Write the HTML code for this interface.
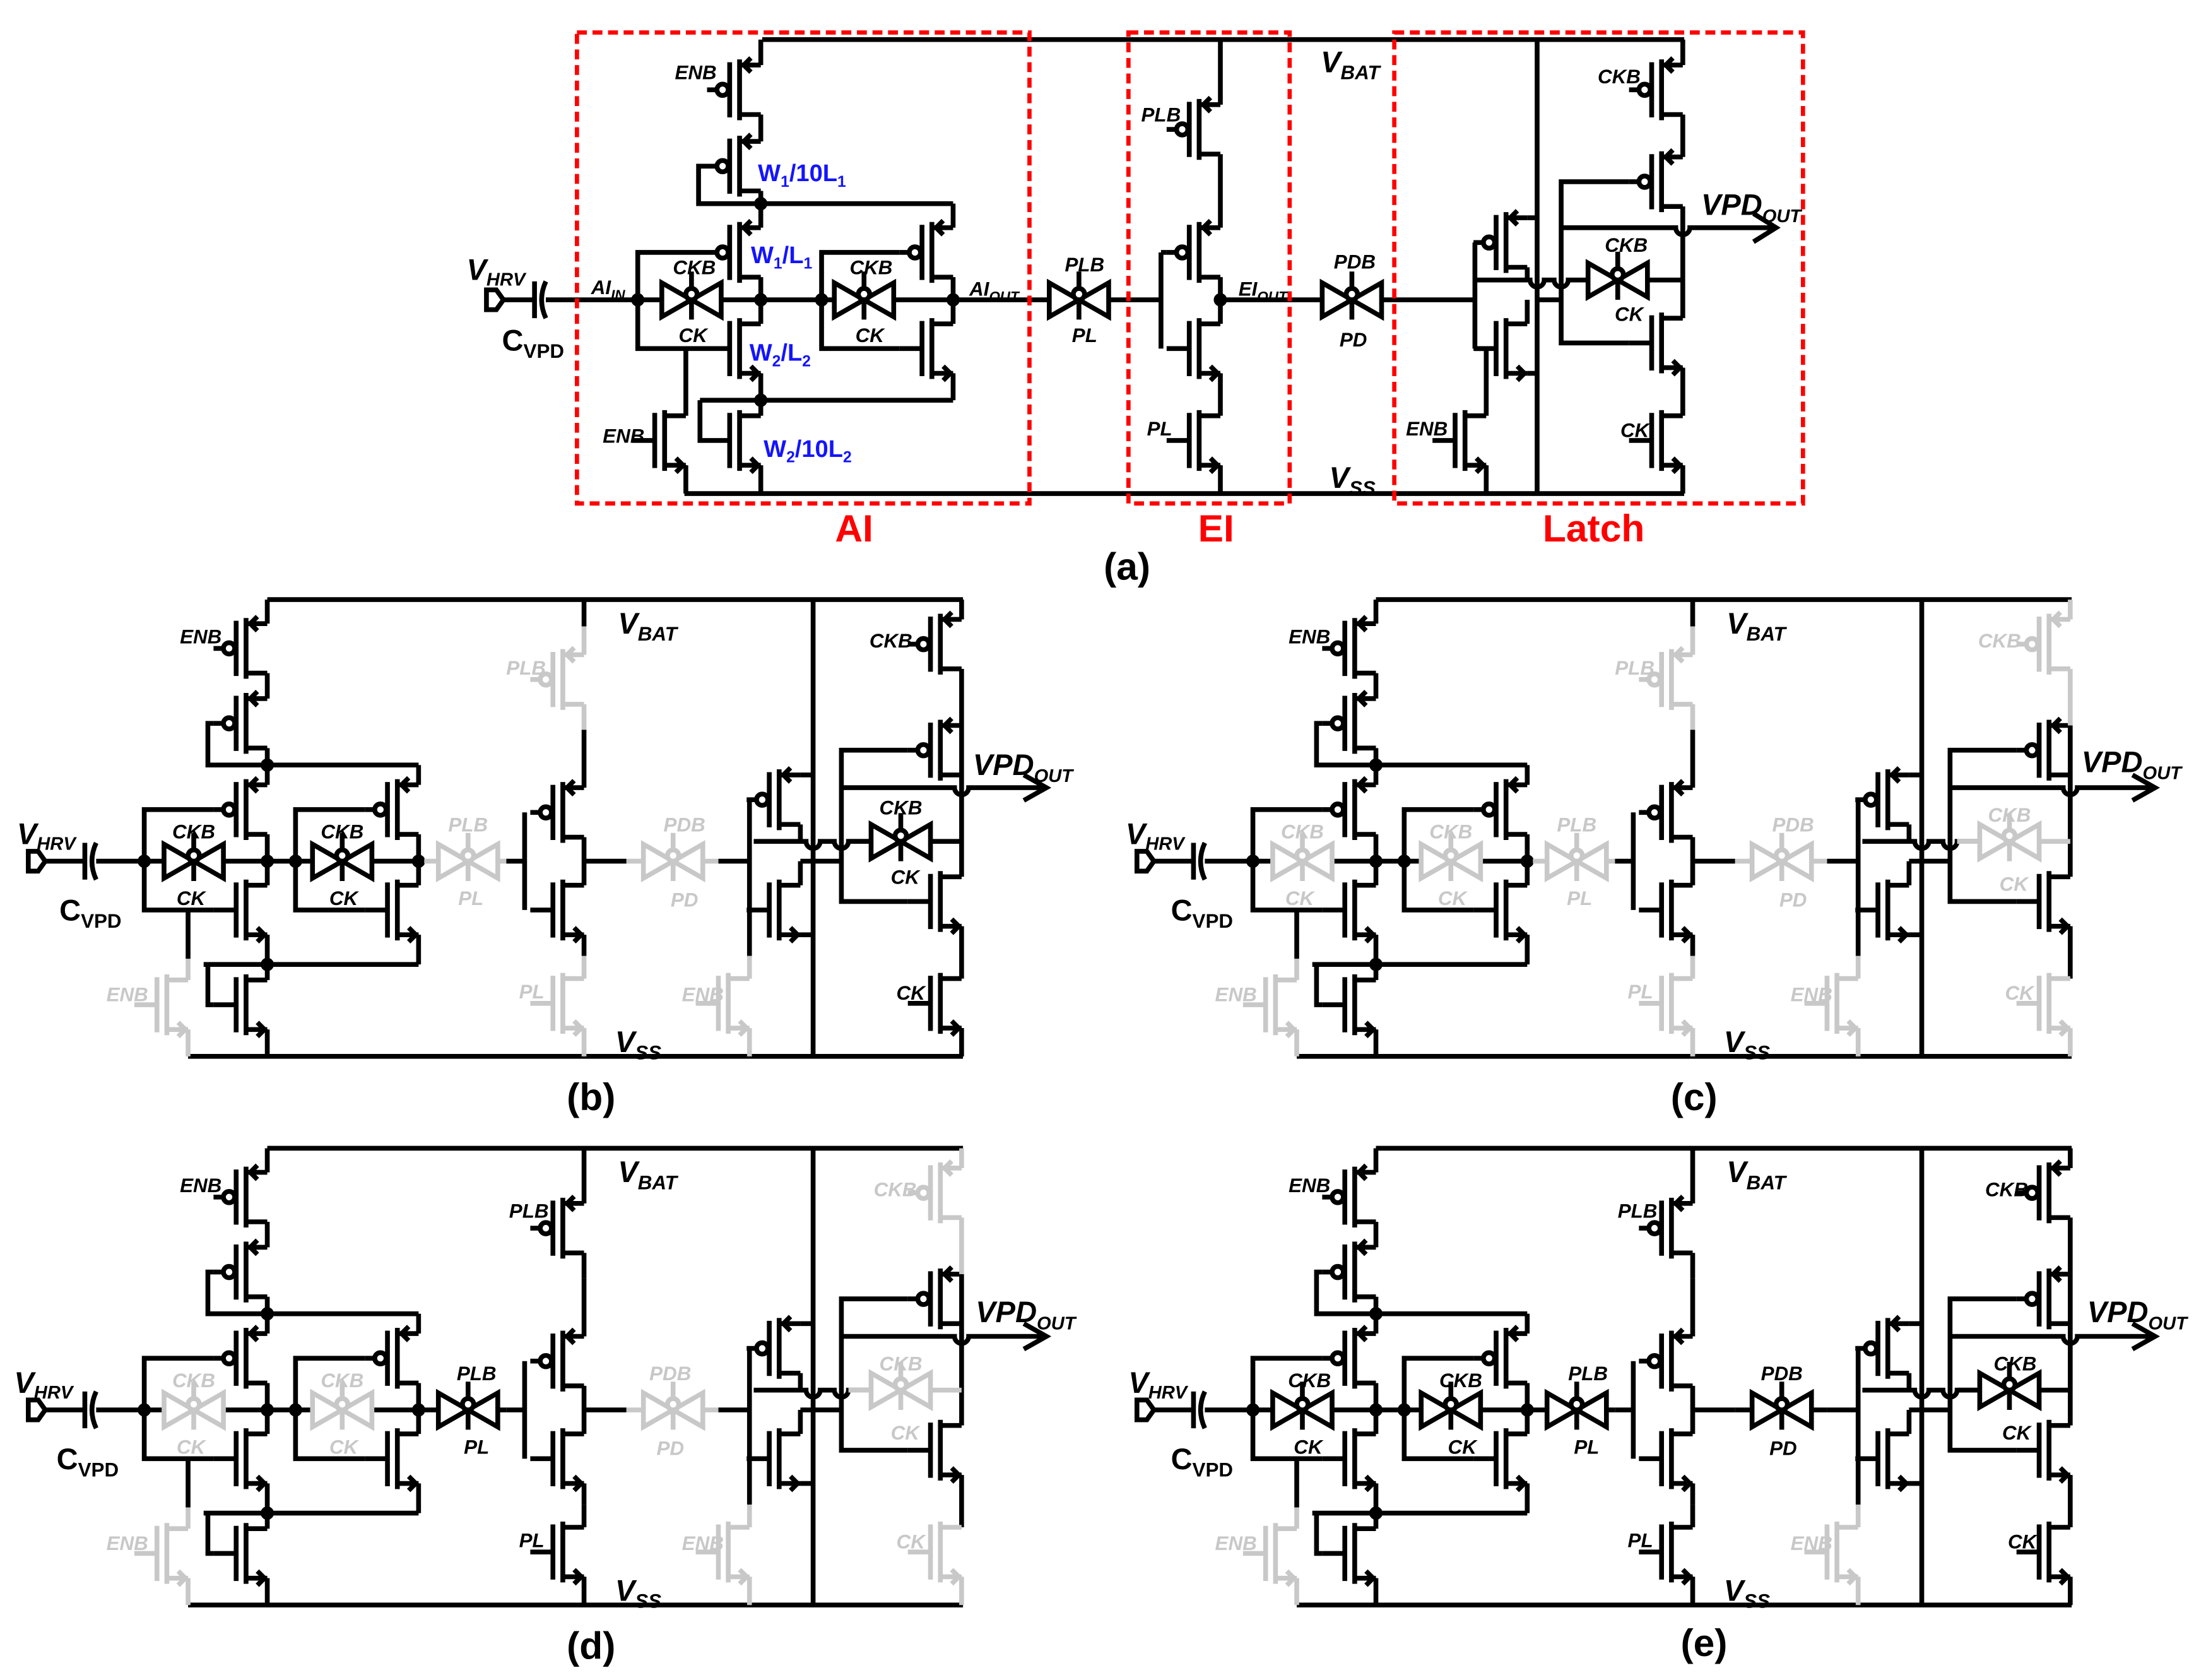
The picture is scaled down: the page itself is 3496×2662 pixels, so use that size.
<!DOCTYPE html>
<html><head><meta charset="utf-8"><style>
html,body{margin:0;padding:0;background:#fff;}
svg{display:block}
text{stroke:none;font-family:"Liberation Sans",sans-serif;font-weight:bold;}
.s{font-size:14px;font-style:italic;text-anchor:middle;}
.b{font-size:17px;fill:#1414ff;font-style:normal;}
.v{font-size:21px;font-style:italic;}
.c{font-size:21px;font-style:normal;}
.r{font-size:27px;fill:#f00;text-anchor:middle;}
.p{font-size:27px;text-anchor:middle;}
</style></head><body>
<svg width="3496" height="2662" viewBox="0 0 1560 1188" preserveAspectRatio="none" xmlns="http://www.w3.org/2000/svg">
<defs>
<g id="pm" fill="none"><path d="M0,0H-15M-15,-4V39M-15,35H0M-22,-2V37M-31,17.5H-38M-7,-5L-12,0L-7,5"/><circle cx="-27" cy="17.5" r="4" fill="#fff"/></g>
<g id="nm" fill="none"><path d="M0,0H-15M-15,-4V39M-15,35H0M-22,-2V37M-22,17.5H-38M-7,30L-2,35L-7,40"/></g>
<g id="tg" fill="none"><path d="M-21,-12L21,12V-12L-21,12Z M0,-20V-8 M0,0V14"/><circle cy="-4" r="4" fill="#fff"/></g>

<g id="com" fill="none" stroke="currentColor">
<path d="M189,424H681M133,747H681"/>
<path d="M189,424V441M189,476V494M189,529V555M189,590V626M189,661V693M189,728V747"/>
<use href="#pm" x="189" y="441"/><use href="#pm" x="189" y="494"/><use href="#pm" x="189" y="555"/>
<use href="#nm" x="189" y="626"/><use href="#nm" x="189" y="693"/>
<path d="M151,511.5H147V541H296M151,572.5H102V643.5H151M147,682V710.5H151M144,682H296M133,643.5V678"/>
<path d="M296,541V555M296,590V626M296,661V682M258,572.5H209V643.5H258"/>
<use href="#pm" x="296" y="555"/><use href="#nm" x="296" y="626"/>
<path d="M20,602H27L32,609L27,616H20Z"/>
<path d="M32,609H60M60,596V622M68,596Q62,609 68,622M68,609H116M158,609H221M263,609H300"/>
<path d="M358,609H371M371,574.5V643.5M413,424V443M413,516V557M413,592V626M413,661V676M413,609H443M508,609H530"/>
<use href="#pm" x="413" y="557"/><use href="#nm" x="413" y="626"/>
<path d="M575,424V747M566,548H575M566,583V595M566,609V626M566,661H575M530,565.5V643.5M530,643.5V676"/>
<use href="#pm" x="566" y="548"/><use href="#nm" x="566" y="626"/>
<path d="M533,595H570A5,5 0 0 0 580,595H590A5,5 0 0 0 600,595H616M566,609H595"/>
<path d="M680,513V548M680,548V620M680,655V692"/>
<use href="#pm" x="680" y="513"/><use href="#nm" x="680" y="620"/>
<path d="M642,530.5H595V637.5H642M595,557H675A5,5 0 0 0 685,557H738M724,548L740,557L724,566"/>
<circle cx="102" cy="609" r="3" fill="currentColor"/><circle cx="189" cy="609" r="3" fill="currentColor"/><circle cx="209" cy="609" r="3" fill="currentColor"/><circle cx="296" cy="609" r="3" fill="currentColor"/><circle cx="189" cy="541" r="3" fill="currentColor"/><circle cx="189" cy="682" r="3" fill="currentColor"/>
</g>
<g id="enbA" fill="none" stroke="currentColor"><path d="M133,678V693M133,728V747"/><use href="#nm" x="133" y="693"/></g>
<g id="tg1" stroke="currentColor"><use href="#tg" x="137" y="609"/></g>
<g id="tg2" stroke="currentColor"><use href="#tg" x="242" y="609"/></g>
<g id="tgpl" fill="none" stroke="currentColor"><path d="M300,609H310M352,609H358"/><use href="#tg" x="331" y="609"/></g>
<g id="plb" fill="none" stroke="currentColor"><path d="M413,443V463M413,498V516"/><use href="#pm" x="413" y="463"/></g>
<g id="pl" fill="none" stroke="currentColor"><path d="M413,676V692M413,727V747"/><use href="#nm" x="413" y="692"/></g>
<g id="tgpd" fill="none" stroke="currentColor"><path d="M443,609H455M497,609H508"/><use href="#tg" x="476" y="609"/></g>
<g id="enbL" fill="none" stroke="currentColor"><path d="M530,676V692M530,727V747"/><use href="#nm" x="530" y="692"/></g>
<g id="ckb" fill="none" stroke="currentColor"><path d="M680,424V438M680,473V513"/><use href="#pm" x="680" y="438"/></g>
<g id="tg3" fill="none" stroke="currentColor"><path d="M600,595H616M658,595H680"/><use href="#tg" x="637" y="595"/></g>
<g id="ckn" fill="none" stroke="currentColor"><path d="M680,727V747"/><use href="#nm" x="680" y="692"/></g>
</defs>

<g stroke-width="3.4" stroke="#000" fill="none" color="#000">
<!-- Panel (a) -->
<path d="M539,28H1191M484,349H1191"/>
<path d="M538,28V46M538,81V100M538,135V161M538,196V229M538,264V294M538,329V349"/>
<use href="#pm" x="538" y="46"/><use href="#pm" x="538" y="100"/><use href="#pm" x="538" y="161"/>
<use href="#nm" x="538" y="229"/><use href="#nm" x="538" y="294"/>
<path d="M500,117.5H494V144H674M500,178.5H451V246.5H500M495,283V311.5H500M495,283H674M485,246.5V294M485,329V349"/>
<use href="#nm" x="485" y="294"/>
<path d="M344,205H351L356,212L351,219H344Z"/>
<path d="M356,212H378M378,199V225M386,199Q380,212 386,225M386,212H468M510,212H590M632,212H742M784,212H821"/>
<use href="#tg" x="489" y="212"/><use href="#tg" x="611" y="212"/><use href="#tg" x="763" y="212"/>
<path d="M674,144V161M674,196V229M674,264V283M636,178.5H581V246.5H636"/>
<use href="#pm" x="674" y="161"/><use href="#nm" x="674" y="229"/>
<path d="M863,28V74M863,109V161M863,196V229M863,264V294M863,329V349M821,178.5V246.5M821,178.5H825M863,212H935M977,212H1043"/>
<use href="#pm" x="863" y="74"/><use href="#pm" x="863" y="161"/><use href="#nm" x="863" y="229"/><use href="#nm" x="863" y="294"/>
<use href="#tg" x="956" y="212"/>
<path d="M1087,28V349M1080,154H1087M1080,189V198M1080,212V229M1080,264H1087M1043,171.5V246.5M1043,246.5H1051M1051,246.5V294M1051,329V349M1087,212H1104"/>
<use href="#pm" x="1080" y="154"/><use href="#nm" x="1080" y="229"/><use href="#nm" x="1051" y="294"/>
<path d="M1043,198H1082A5,5 0 0 0 1092,198H1099A5,5 0 0 0 1109,198H1123M1165,198H1190"/>
<use href="#tg" x="1144" y="198"/>
<path d="M1190,28V46M1190,81V111M1190,146V225M1190,260V294M1190,329V349"/>
<use href="#pm" x="1190" y="46"/><use href="#pm" x="1190" y="111"/><use href="#nm" x="1190" y="225"/><use href="#nm" x="1190" y="294"/>
<path d="M1152,128.5H1104V242.5H1152M1104,161H1185A5,5 0 0 0 1195,161H1255M1240,151L1256,161L1240,171"/>
<g fill="#000"><circle cx="451" cy="212" r="3"/><circle cx="538" cy="212" r="3"/><circle cx="581" cy="212" r="3"/><circle cx="674" cy="212" r="3"/><circle cx="538" cy="144" r="3"/><circle cx="538" cy="283" r="3"/><circle cx="863" cy="212" r="3"/></g>
<g stroke="#f00" stroke-dasharray="7,4" stroke-width="3"><rect x="408" y="23" width="320" height="333"/><rect x="798" y="23" width="114" height="333"/><rect x="986" y="23" width="289" height="333"/></g>

<!-- Panels b-e -->
<g transform="translate(0,0)">
<use href="#com" color="#000"/><use href="#enbA" color="#c8c8c8"/><use href="#tg1" color="#000"/><use href="#tg2" color="#000"/><use href="#tgpl" color="#c8c8c8"/><use href="#plb" color="#c8c8c8"/><use href="#pl" color="#c8c8c8"/><use href="#tgpd" color="#c8c8c8"/><use href="#enbL" color="#c8c8c8"/><use href="#ckb" color="#000"/><use href="#tg3" color="#000"/><use href="#ckn" color="#000"/>
<g fill="#000"><text class="s" x="142" y="455">ENB</text><text class="s" x="137" y="593">CKB</text><text class="s" x="135" y="640">CK</text><text class="s" x="242" y="593">CKB</text><text class="s" x="243" y="640">CK</text><text class="s" x="630" y="458">CKB</text><text class="s" x="637" y="576">CKB</text><text class="s" x="640" y="625">CK</text><text class="s" x="644" y="707">CK</text></g>
<g fill="#c8c8c8"><text class="s" x="90" y="708">ENB</text><text class="s" x="331" y="588">PLB</text><text class="s" x="333" y="640">PL</text><text class="s" x="372" y="477">PLB</text><text class="s" x="376" y="706">PL</text><text class="s" x="484" y="588">PDB</text><text class="s" x="484" y="641">PD</text><text class="s" x="497" y="708">ENB</text></g>
<text class="v" x="12" y="597" fill="#000">V<tspan font-size="13" dy="4">HRV</tspan></text>
<text class="c" x="42" y="651" fill="#000">C<tspan font-size="14" dy="5">VPD</tspan></text>
<text class="v" x="437" y="448" fill="#000">V<tspan font-size="14" dy="5">BAT</tspan></text>
<text class="v" x="435" y="744" fill="#000">V<tspan font-size="14" dy="5">SS</tspan></text>
<text class="v" x="688" y="548" fill="#000">VPD<tspan font-size="13" dy="5">OUT</tspan></text>
<text class="p" x="418" y="785" fill="#000">(b)</text>
</g>

<g transform="translate(784,0)">
<use href="#com" color="#000"/><use href="#enbA" color="#c8c8c8"/><use href="#tg1" color="#c8c8c8"/><use href="#tg2" color="#c8c8c8"/><use href="#tgpl" color="#c8c8c8"/><use href="#plb" color="#c8c8c8"/><use href="#pl" color="#c8c8c8"/><use href="#tgpd" color="#c8c8c8"/><use href="#enbL" color="#c8c8c8"/><use href="#ckb" color="#c8c8c8"/><use href="#tg3" color="#c8c8c8"/><use href="#ckn" color="#c8c8c8"/>
<g fill="#000"><text class="s" x="142" y="455">ENB</text></g>
<g fill="#c8c8c8"><text class="s" x="137" y="593">CKB</text><text class="s" x="135" y="640">CK</text><text class="s" x="242" y="593">CKB</text><text class="s" x="243" y="640">CK</text><text class="s" x="630" y="458">CKB</text><text class="s" x="637" y="581">CKB</text><text class="s" x="640" y="630">CK</text><text class="s" x="644" y="707">CK</text><text class="s" x="90" y="708">ENB</text><text class="s" x="331" y="588">PLB</text><text class="s" x="333" y="640">PL</text><text class="s" x="372" y="477">PLB</text><text class="s" x="376" y="706">PL</text><text class="s" x="484" y="588">PDB</text><text class="s" x="484" y="641">PD</text><text class="s" x="497" y="708">ENB</text></g>
<text class="v" x="12" y="597" fill="#000">V<tspan font-size="13" dy="4">HRV</tspan></text>
<text class="c" x="44" y="651" fill="#000">C<tspan font-size="14" dy="5">VPD</tspan></text>
<text class="v" x="437" y="448" fill="#000">V<tspan font-size="14" dy="5">BAT</tspan></text>
<text class="v" x="435" y="744" fill="#000">V<tspan font-size="14" dy="5">SS</tspan></text>
<text class="v" x="688" y="546" fill="#000">VPD<tspan font-size="13" dy="5">OUT</tspan></text>
<text class="p" x="414" y="785" fill="#000">(c)</text>
</g>

<g transform="translate(0,388)">
<use href="#com" color="#000"/><use href="#enbA" color="#c8c8c8"/><use href="#tg1" color="#c8c8c8"/><use href="#tg2" color="#c8c8c8"/><use href="#tgpl" color="#000"/><use href="#plb" color="#000"/><use href="#pl" color="#000"/><use href="#tgpd" color="#c8c8c8"/><use href="#enbL" color="#c8c8c8"/><use href="#ckb" color="#c8c8c8"/><use href="#tg3" color="#c8c8c8"/><use href="#ckn" color="#c8c8c8"/>
<g fill="#000"><text class="s" x="142" y="455">ENB</text><text class="s" x="337" y="588">PLB</text><text class="s" x="337" y="640">PL</text><text class="s" x="374" y="473">PLB</text><text class="s" x="376" y="706">PL</text></g>
<g fill="#c8c8c8"><text class="s" x="137" y="593">CKB</text><text class="s" x="135" y="640">CK</text><text class="s" x="242" y="593">CKB</text><text class="s" x="243" y="640">CK</text><text class="s" x="633" y="458">CKB</text><text class="s" x="637" y="581">CKB</text><text class="s" x="640" y="630">CK</text><text class="s" x="644" y="707">CK</text><text class="s" x="90" y="708">ENB</text><text class="s" x="474" y="588">PDB</text><text class="s" x="474" y="641">PD</text><text class="s" x="497" y="708">ENB</text></g>
<text class="v" x="10" y="597" fill="#000">V<tspan font-size="13" dy="4">HRV</tspan></text>
<text class="c" x="40" y="651" fill="#000">C<tspan font-size="14" dy="5">VPD</tspan></text>
<text class="v" x="437" y="448" fill="#000">V<tspan font-size="14" dy="5">BAT</tspan></text>
<text class="v" x="435" y="744" fill="#000">V<tspan font-size="14" dy="5">SS</tspan></text>
<text class="v" x="690" y="547" fill="#000">VPD<tspan font-size="13" dy="5">OUT</tspan></text>
<text class="p" x="418" y="785" fill="#000">(d)</text>
</g>

<g transform="translate(784,388)">
<use href="#com" color="#000"/><use href="#enbA" color="#c8c8c8"/><use href="#tg1" color="#000"/><use href="#tg2" color="#000"/><use href="#tgpl" color="#000"/><use href="#plb" color="#000"/><use href="#pl" color="#000"/><use href="#tgpd" color="#000"/><use href="#enbL" color="#c8c8c8"/><use href="#ckb" color="#000"/><use href="#tg3" color="#000"/><use href="#ckn" color="#000"/>
<g fill="#000"><text class="s" x="142" y="455">ENB</text><text class="s" x="142" y="593">CKB</text><text class="s" x="141" y="640">CK</text><text class="s" x="249" y="593">CKB</text><text class="s" x="250" y="640">CK</text><text class="s" x="339" y="588">PLB</text><text class="s" x="338" y="640">PL</text><text class="s" x="374" y="473">PLB</text><text class="s" x="376" y="706">PL</text><text class="s" x="476" y="588">PDB</text><text class="s" x="477" y="641">PD</text><text class="s" x="635" y="458">CKB</text><text class="s" x="641" y="581">CKB</text><text class="s" x="642" y="630">CK</text><text class="s" x="646" y="707">CK</text></g>
<g fill="#c8c8c8"><text class="s" x="90" y="708">ENB</text><text class="s" x="497" y="708">ENB</text></g>
<text class="v" x="14" y="597" fill="#000">V<tspan font-size="13" dy="4">HRV</tspan></text>
<text class="c" x="44" y="651" fill="#000">C<tspan font-size="14" dy="5">VPD</tspan></text>
<text class="v" x="437" y="448" fill="#000">V<tspan font-size="14" dy="5">BAT</tspan></text>
<text class="v" x="435" y="744" fill="#000">V<tspan font-size="14" dy="5">SS</tspan></text>
<text class="v" x="692" y="547" fill="#000">VPD<tspan font-size="13" dy="5">OUT</tspan></text>
<text class="p" x="421" y="783" fill="#000">(e)</text>
</g>
</g>

<!-- Panel (a) labels -->
<g fill="#000">
<text class="s" x="492" y="56">ENB</text><text class="s" x="441" y="313">ENB</text>
<text class="s" x="491" y="194">CKB</text><text class="s" x="490" y="242">CK</text>
<text class="s" x="616" y="194">CKB</text><text class="s" x="615" y="242">CK</text>
<text class="s" x="430" y="208">AI<tspan font-size="10" dy="4">IN</tspan></text>
<text class="s" x="703" y="209">AI<tspan font-size="10" dy="4">OUT</tspan></text>
<text class="s" x="767" y="192">PLB</text><text class="s" x="767" y="242">PL</text>
<text class="s" x="821" y="86">PLB</text><text class="s" x="820" y="308">PL</text>
<text class="s" x="893" y="209">EI<tspan font-size="10" dy="4">OUT</tspan></text>
<text class="s" x="958" y="190">PDB</text><text class="s" x="957" y="245">PD</text>
<text class="s" x="1009" y="308">ENB</text>
<text class="s" x="1145" y="59">CKB</text><text class="s" x="1150" y="178">CKB</text><text class="s" x="1152" y="227">CK</text><text class="s" x="1156" y="309">CK</text>
<text class="v" x="1203" y="152">VPD<tspan font-size="13" dy="5">OUT</tspan></text>
<text class="v" x="934" y="51">V<tspan font-size="14" dy="5">BAT</tspan></text>
<text class="v" x="940" y="345">V<tspan font-size="14" dy="5">SS</tspan></text>
<text class="v" x="330" y="198">V<tspan font-size="13" dy="4">HRV</tspan></text>
<text class="c" x="355" y="248">C<tspan font-size="14" dy="5">VPD</tspan></text>
<text class="b" x="536" y="128">W<tspan font-size="11" dy="4">1</tspan><tspan dy="-4">/10L</tspan><tspan font-size="11" dy="4">1</tspan></text>
<text class="b" x="531" y="186">W<tspan font-size="11" dy="4">1</tspan><tspan dy="-4">/L</tspan><tspan font-size="11" dy="4">1</tspan></text>
<text class="b" x="530" y="255">W<tspan font-size="11" dy="4">2</tspan><tspan dy="-4">/L</tspan><tspan font-size="11" dy="4">2</tspan></text>
<text class="b" x="540" y="323">W<tspan font-size="11" dy="4">2</tspan><tspan dy="-4">/10L</tspan><tspan font-size="11" dy="4">2</tspan></text>
<text class="r" x="604" y="383">AI</text><text class="r" x="860" y="383">EI</text><text class="r" x="1127" y="383">Latch</text>
<text class="p" x="797" y="410">(a)</text>
</g>
</svg>
</body></html>
